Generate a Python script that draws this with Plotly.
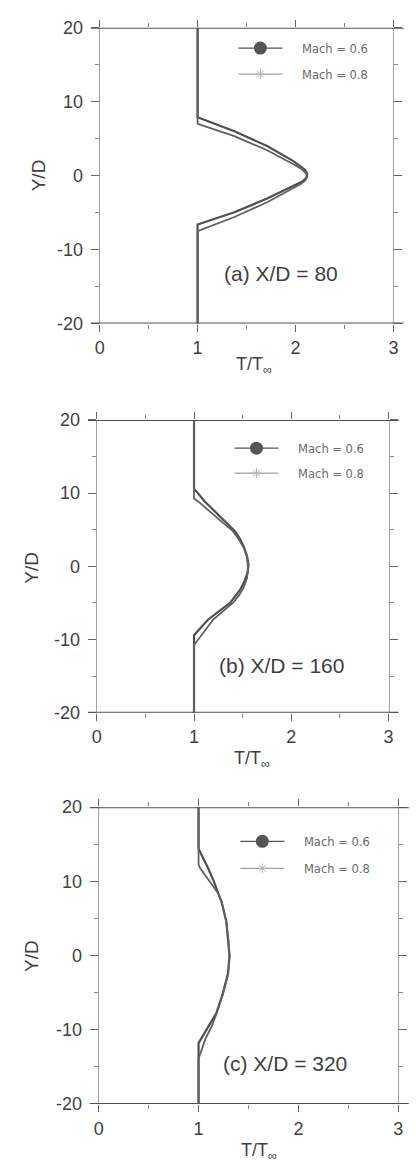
import plotly.graph_objects as go

# ---- axis settings -------------------------------------------------------
T_RANGE = [0, 3]
Y_RANGE = [-20, 20]
x_tick_vals = [0, 1, 2, 3]
x_tick_text = ["0", "1", "2", "3"]
y_tick_vals = [-20, -10, 0, 10, 20]
y_tick_text = ["-20", "-10", "0", "10", "20"]

series_names = ["Mach = 0.6", "Mach = 0.8"]
panel_labels = ["(a) X/D = 80", "(b) X/D = 160", "(c) X/D = 320"]
label_pos_T = [1.85, 1.90, 1.87]
label_pos_Y = [-13.2, -13.5, -14.5]

# ---- temperature profiles T/T_inf vs Y/D ----------------------------------
# X/D = 80
a_m06_T = [1, 1, 1.376, 1.71, 1.974, 2.05, 2.10, 2.12, 2.11, 2.07, 1.974, 1.71, 1.376, 1, 1]
a_m06_Y = [20, 7.9, 6.0, 4.0, 2.0, 1.3, 0.75, 0.2, -0.3, -0.8, -1.4, -3.1, -4.95, -6.6, -20]
a_m08_T = [1, 1, 1.376, 1.71, 1.974, 2.06, 2.105, 2.12, 2.10, 2.05, 1.974, 1.71, 1.376, 1, 1]
a_m08_Y = [20, 7.0, 5.34, 3.43, 1.57, 0.9, 0.35, -0.15, -0.65, -1.15, -1.7, -3.6, -5.6, -7.5, -20]

# X/D = 160
b_m06_T = [1, 1, 1.113, 1.247, 1.34, 1.42, 1.475, 1.515, 1.545, 1.56, 1.55, 1.52, 1.47, 1.37, 1.146, 1, 1]
b_m06_Y = [20, 10.6, 8.83, 7.05, 5.9, 4.81, 3.7, 2.57, 1.4, 0.2, -0.9, -2.0, -3.3, -5.0, -7.26, -9.4, -20]
b_m08_T = [1, 1, 1.046, 1.197, 1.31, 1.40, 1.46, 1.51, 1.545, 1.555, 1.545, 1.51, 1.46, 1.40, 1.197, 1.10, 1, 1]
b_m08_Y = [20, 9.27, 8.83, 7.05, 5.8, 4.81, 3.7, 2.57, 1.3, -0.3, -1.6, -2.9, -4.0, -5.0, -7.26, -9.0, -10.75, -20]

# X/D = 320
c_m06_T = [1, 1, 1.098, 1.155, 1.196, 1.229, 1.277, 1.30, 1.31, 1.295, 1.244, 1.18, 1.10, 1.03, 1, 1]
c_m06_Y = [20, 14.4, 11.7, 9.94, 8.4, 7.3, 4.65, 2.0, 0.0, -2.4, -5.05, -7.7, -9.46, -11.1, -11.8, -20]
c_m08_T = [1, 1, 1.02, 1.113, 1.196, 1.229, 1.277, 1.30, 1.31, 1.295, 1.244, 1.18, 1.134, 1.07, 1, 1]
c_m08_Y = [20, 12.2, 11.7, 9.94, 8.4, 7.3, 4.65, 2.0, -0.2, -2.6, -5.2, -7.8, -9.46, -11.2, -13.9, -20]

profiles = [
    [(a_m06_T, a_m06_Y), (a_m08_T, a_m08_Y)],
    [(b_m06_T, b_m06_Y), (b_m08_T, b_m08_Y)],
    [(c_m06_T, c_m06_Y), (c_m08_T, c_m08_Y)],
]

# ---- page layout (pixels of a 416 x 1171 page) ----------------------------
W, H = 416, 1171
panel_px = [  # left, right, top, bottom of each plotting box
    (97, 398, 18, 319),
    (94, 393, 417, 715),
    (96, 403, 811, 1113),
]
xtitle_px = [(255, 362), (253, 763), (260, 1161)]
ytitle_px = [(34, 168), (27, 567), (27, 962)]
legend_px = [(234, 24), (230, 431), (236, 831)]
legend_gap = [7, 6, 8]
NBSP = "\u00a0"

line_colors = ["#4f4f4f", "#606060"]
line_widths = [2.2, 1.8]
legend_markers = [
    dict(symbol="circle", size=13, color="#555555"),
    dict(symbol="asterisk-open", size=8, color="#b5b5b5", line=dict(width=1, color="#b5b5b5")),
]
legend_lines = [dict(color="#555555", width=1.2), dict(color="#8a8a8a", width=1)]

ink = "#3f3f3f"
font_family = "Arial, Liberation Sans, sans-serif"

fig = go.Figure()
layout = dict(
    width=W, height=H,
    margin=dict(l=0, r=0, t=0, b=0),
    paper_bgcolor="white", plot_bgcolor="white",
    showlegend=True,
    annotations=[], shapes=[],
)

for i in range(3):
    sfx = "" if i == 0 else str(i + 1)
    xa, ya = "x" + sfx, "y" + sfx
    leg = "legend" + sfx
    left, right, top, bottom = panel_px[i]

    for k in range(2):
        T, Y = profiles[i][k]
        fig.add_trace(go.Scatter(
            x=T, y=Y, mode="lines", xaxis=xa, yaxis=ya,
            line=dict(color=line_colors[k], width=line_widths[k]),
            showlegend=False, hoverinfo="skip",
        ))
        # legend sample entry
        fig.add_trace(go.Scatter(
            x=[None], y=[None], mode="lines+markers", xaxis=xa, yaxis=ya,
            name=NBSP * 4 + series_names[k], legend=leg, legendgroup=f"g{i}{k}",
            line=legend_lines[k], marker=legend_markers[k],
        ))

    layout["xaxis" + sfx] = dict(
        domain=[left / W, right / W], anchor=ya, range=T_RANGE,
        tickvals=x_tick_vals, ticktext=x_tick_text,
        ticks="outside", ticklen=7, tickwidth=1, tickcolor="#666",
        minor=dict(ticks="outside", dtick=0.5, ticklen=4, tickcolor="#888"),
        showline=False, mirror="ticks", showgrid=False, zeroline=False,
        tickfont=dict(family=font_family, size=18, color=ink),
        ticklabelstandoff=1,
    )
    layout["yaxis" + sfx] = dict(
        domain=[1 - bottom / H, 1 - top / H], anchor=xa, range=Y_RANGE,
        tickvals=y_tick_vals, ticktext=y_tick_text,
        ticks="outside", ticklen=8, tickwidth=1, tickcolor="#666",
        minor=dict(ticks="outside", dtick=5, ticklen=4, tickcolor="#888"),
        showline=True, linecolor="#a0a0a0", linewidth=1, mirror="ticks",
        showgrid=False, zeroline=False,
        tickfont=dict(family=font_family, size=18, color=ink),
        ticklabelstandoff=4,
    )
    # heavy horizontal frame lines at Y/D = +-20
    for yv in (Y_RANGE[1], Y_RANGE[0]):
        layout["shapes"].append(dict(
            type="line", xref=xa + " domain", yref=ya,
            x0=-0.03, x1=1.035, y0=yv, y1=yv,
            line=dict(color="#505050", width=2),
        ))
    layout[leg] = dict(
        x=legend_px[i][0] / W, y=1 - legend_px[i][1] / H,
        xanchor="left", yanchor="top",
        bgcolor="rgba(0,0,0,0)", borderwidth=0,
        font=dict(family="DejaVu Sans, sans-serif", size=11.5, color="#6a6a6a"),
        traceorder="grouped", tracegroupgap=legend_gap[i], itemsizing="trace",
        itemwidth=44,
    )
    layout["annotations"] += [
        dict(text=panel_labels[i], xref=xa, yref=ya, x=label_pos_T[i], y=label_pos_Y[i],
             showarrow=False, xanchor="center", yanchor="middle",
             font=dict(family=font_family, size=21, color=ink)),
        dict(text="T/T<sub>∞</sub>", xref="paper", yref="paper",
             x=xtitle_px[i][0] / W, y=1 - xtitle_px[i][1] / H,
             showarrow=False, xanchor="center", yanchor="middle",
             font=dict(family=font_family, size=18, color=ink)),
        dict(text="Y/D", xref="paper", yref="paper", textangle=-90,
             x=ytitle_px[i][0] / W, y=1 - ytitle_px[i][1] / H,
             showarrow=False, xanchor="center", yanchor="middle",
             font=dict(family=font_family, size=19, color=ink)),
    ]

fig.update_layout(**layout)
fig.write_html("out.html")
